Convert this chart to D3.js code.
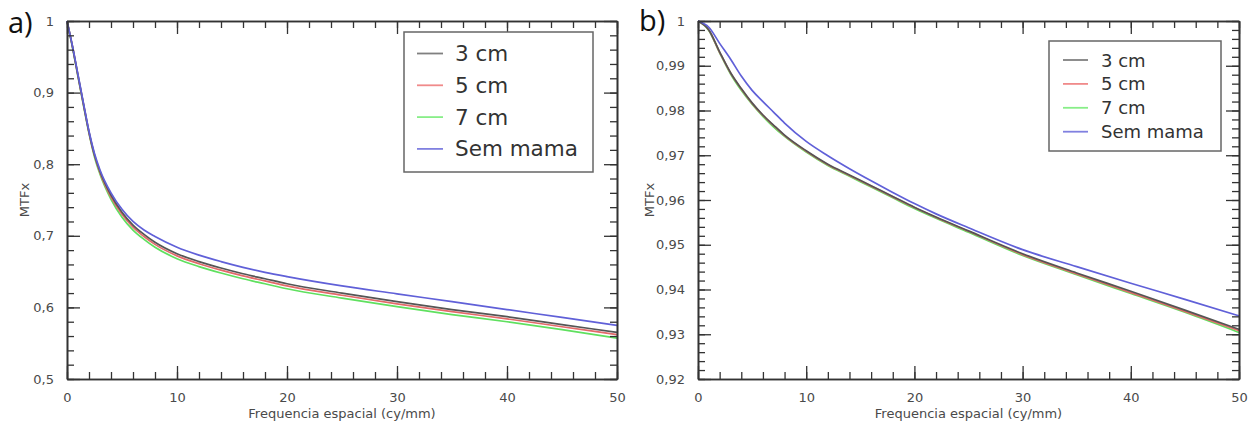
<!DOCTYPE html>
<html>
<head>
<meta charset="utf-8">
<script src="https://cdn.jsdelivr.net/npm/d3@7"></script>
<style>
  html, body { margin: 0; padding: 0; background: #fff; }
  svg { display: block; }
  text { font-family: "DejaVu Sans", sans-serif; }
</style>
</head>
<body>
<svg id="chart" width="1259" height="422"></svg>
<script>
// ---- Panel a) : MTF over the full range ----
const freqA = [0, 0.5, 1, 1.5, 2, 2.5, 3, 4, 5, 6, 7, 8, 10, 12, 14, 16, 18, 20, 25, 30, 35, 40, 45, 50];
const a3cm  = [1.000, 0.964, 0.924, 0.884, 0.845, 0.813, 0.790, 0.757, 0.733, 0.715, 0.702, 0.691, 0.675, 0.664, 0.655, 0.647, 0.640, 0.633, 0.620, 0.608, 0.597, 0.587, 0.576, 0.565];
const a5cm  = [1.000, 0.964, 0.923, 0.883, 0.844, 0.812, 0.788, 0.754, 0.730, 0.712, 0.699, 0.688, 0.672, 0.661, 0.652, 0.644, 0.637, 0.630, 0.617, 0.605, 0.594, 0.584, 0.573, 0.562];
const a7cm  = [1.000, 0.963, 0.922, 0.882, 0.843, 0.810, 0.786, 0.751, 0.726, 0.708, 0.695, 0.684, 0.668, 0.657, 0.648, 0.640, 0.633, 0.626, 0.613, 0.601, 0.590, 0.580, 0.569, 0.557];
const aSem  = [1.000, 0.965, 0.925, 0.885, 0.846, 0.815, 0.792, 0.760, 0.737, 0.720, 0.708, 0.699, 0.684, 0.673, 0.664, 0.656, 0.649, 0.643, 0.630, 0.619, 0.608, 0.597, 0.586, 0.575];
const yTicksA  = [0.5, 0.6, 0.7, 0.8, 0.9, 1];
const yLabelsA = ["0,5", "0,6", "0,7", "0,8", "0,9", "1"];

// ---- Panel b) : zoom near MTF = 1 ----
const freqB = [0, 1, 2, 3, 4, 5, 6, 7, 8, 10, 12, 14, 16, 18, 20, 22, 25, 30, 35, 40, 45, 50];
const b3cm  = [1.0000, 0.9980, 0.9931, 0.9885, 0.9849, 0.9817, 0.9790, 0.9767, 0.9745, 0.9710, 0.9680, 0.9656, 0.9632, 0.9608, 0.9584, 0.9562, 0.9531, 0.9480, 0.9437, 0.9396, 0.9354, 0.9311];
const b5cm  = [1.0000, 0.9980, 0.9930, 0.9884, 0.9848, 0.9816, 0.9789, 0.9766, 0.9744, 0.9709, 0.9679, 0.9655, 0.9631, 0.9607, 0.9583, 0.9561, 0.9530, 0.9478, 0.9435, 0.9393, 0.9351, 0.9308];
const b7cm  = [1.0000, 0.9979, 0.9929, 0.9882, 0.9845, 0.9814, 0.9787, 0.9763, 0.9742, 0.9707, 0.9677, 0.9653, 0.9629, 0.9605, 0.9581, 0.9559, 0.9528, 0.9476, 0.9433, 0.9391, 0.9349, 0.9304];
const bSem  = [1.0000, 0.9986, 0.9950, 0.9915, 0.9877, 0.9845, 0.9820, 0.9796, 0.9772, 0.9731, 0.9699, 0.9670, 0.9643, 0.9617, 0.9592, 0.9569, 0.9538, 0.9489, 0.9451, 0.9414, 0.9378, 0.9341];
const yTicksB  = [0.92, 0.93, 0.94, 0.95, 0.96, 0.97, 0.98, 0.99, 1];
const yLabelsB = ["0,92", "0,93", "0,94", "0,95", "0,96", "0,97", "0,98", "0,99", "1"];

const xTicks  = [0, 10, 20, 30, 40, 50];
const xLabels = ["0", "10", "20", "30", "40", "50"];
const seriesNames = ["3 cm", "5 cm", "7 cm", "Sem mama"];
const xTitle = "Frequencia espacial (cy/mm)";
const yTitle = "MTFx";

// ---- Styling ----
const lineColors   = ["#555555", "#e36a6a", "#5fe05f", "#6060d8"];
const legendColors = ["#808080", "#f08a8a", "#88ee88", "#8080e0"];
const axisColor = "#333";
const labelColor = "#4a4a4a";

const svg = d3.select("#chart");
svg.append("rect").attr("width", 1259).attr("height", 422).attr("fill", "#fff");

const panels = [
  {
    tag: "a)", tagX: 8, tagY: 33,
    left: 67, right: 617, top: 21, bottom: 379,
    yDomain: [0.5, 1], yTicks: yTicksA, yLabels: yLabelsA, yMinorCount: 25,
    freq: freqA, series: [a3cm, a5cm, a7cm, aSem],
    yTitleX: 24,
    legend: { x: 404, y: 32, w: 189, h: 140, rowY0: 53.5, rowStep: 31.8, lineX0: 417, lineX1: 443, textX: 455, fontSize: 21.5 }
  },
  {
    tag: "b)", tagX: 639, tagY: 31,
    left: 698, right: 1239, top: 21, bottom: 379,
    yDomain: [0.92, 1], yTicks: yTicksB, yLabels: yLabelsB, yMinorCount: 40,
    freq: freqB, series: [b3cm, b5cm, b7cm, bSem],
    yTitleX: 649,
    legend: { x: 1049, y: 41, w: 172, h: 110, rowY0: 60, rowStep: 23.9, lineX0: 1063, lineX1: 1088, textX: 1101, fontSize: 18 }
  }
];

panels.forEach(p => {
  const x = d3.scaleLinear().domain([0, 50]).range([p.left, p.right]);
  const y = d3.scaleLinear().domain(p.yDomain).range([p.bottom, p.top]);
  const g = svg.append("g");

  // curves: drawn back to front so the 3 cm line sits over 5/7 cm
  const line = d3.line()
    .x((d, i) => x(p.freq[i]))
    .y(d => y(d))
    .curve(d3.curveMonotoneX);
  const order = [2, 1, 0, 3];
  order.forEach(k => {
    g.append("path")
      .datum(p.series[k])
      .attr("d", line)
      .attr("fill", "none")
      .attr("stroke", lineColors[k])
      .attr("stroke-width", 1.7)
      .attr("stroke-linejoin", "round");
  });

  const xMinor = d3.ticks(0, 50, 25);
  const yMinor = d3.ticks(p.yDomain[0], p.yDomain[1], p.yMinorCount);

  const styleAxis = sel => {
    sel.selectAll(".domain").attr("stroke", axisColor).attr("stroke-width", 1.6);
    sel.selectAll(".tick line").attr("stroke", axisColor).attr("stroke-width", 1.3);
    sel.selectAll(".tick text")
      .attr("fill", labelColor)
      .style("font-family", "'DejaVu Sans', sans-serif")
      .style("font-size", "13px");
  };

  // bottom axis with labels
  g.append("g").attr("transform", `translate(0,${p.bottom})`)
    .call(d3.axisBottom(x).tickValues(xTicks).tickSize(-13).tickSizeOuter(0).tickPadding(14)
      .tickFormat((d, i) => xLabels[i]))
    .call(styleAxis);
  g.append("g").attr("transform", `translate(0,${p.bottom})`)
    .call(d3.axisBottom(x).tickValues(xMinor).tickSize(-7).tickSizeOuter(0).tickFormat(""))
    .call(styleAxis);
  // top axis, mirrored ticks
  g.append("g").attr("transform", `translate(0,${p.top})`)
    .call(d3.axisTop(x).tickValues(xTicks).tickSize(-13).tickSizeOuter(0).tickFormat(""))
    .call(styleAxis);
  g.append("g").attr("transform", `translate(0,${p.top})`)
    .call(d3.axisTop(x).tickValues(xMinor).tickSize(-7).tickSizeOuter(0).tickFormat(""))
    .call(styleAxis);
  // left axis with labels
  g.append("g").attr("transform", `translate(${p.left},0)`)
    .call(d3.axisLeft(y).tickValues(p.yTicks).tickSize(-13).tickSizeOuter(0).tickPadding(13)
      .tickFormat((d, i) => p.yLabels[i]))
    .call(styleAxis);
  g.append("g").attr("transform", `translate(${p.left},0)`)
    .call(d3.axisLeft(y).tickValues(yMinor).tickSize(-7).tickSizeOuter(0).tickFormat(""))
    .call(styleAxis);
  // right axis, mirrored ticks
  g.append("g").attr("transform", `translate(${p.right},0)`)
    .call(d3.axisRight(y).tickValues(p.yTicks).tickSize(-13).tickSizeOuter(0).tickFormat(""))
    .call(styleAxis);
  g.append("g").attr("transform", `translate(${p.right},0)`)
    .call(d3.axisRight(y).tickValues(yMinor).tickSize(-7).tickSizeOuter(0).tickFormat(""))
    .call(styleAxis);

  // axis titles
  g.append("text")
    .attr("x", (p.left + p.right) / 2)
    .attr("y", 418)
    .attr("text-anchor", "middle")
    .attr("fill", labelColor)
    .style("font-size", "13px")
    .text(xTitle);
  g.append("text")
    .attr("transform", `translate(${p.yTitleX},200) rotate(-90)`)
    .attr("text-anchor", "middle")
    .attr("dominant-baseline", "central")
    .attr("fill", labelColor)
    .style("font-size", "13px")
    .text(yTitle);

  // panel tag
  svg.append("text")
    .attr("x", p.tagX)
    .attr("y", p.tagY)
    .attr("fill", "#111")
    .style("font-family", "'Open Sans', 'Liberation Sans', sans-serif")
    .style("font-size", "29px")
    .text(p.tag);

  // legend
  const L = p.legend;
  const lg = svg.append("g");
  lg.append("rect")
    .attr("x", L.x).attr("y", L.y).attr("width", L.w).attr("height", L.h)
    .attr("fill", "#fff").attr("stroke", "#666").attr("stroke-width", 1.5);
  seriesNames.forEach((name, k) => {
    const cy = L.rowY0 + k * L.rowStep;
    lg.append("line")
      .attr("x1", L.lineX0).attr("x2", L.lineX1)
      .attr("y1", cy).attr("y2", cy)
      .attr("stroke", legendColors[k]).attr("stroke-width", 1.8);
    lg.append("text")
      .attr("x", L.textX).attr("y", cy)
      .attr("dominant-baseline", "central")
      .attr("fill", "#333")
      .style("font-size", L.fontSize + "px")
      .text(name);
  });
});
</script>
</body>
</html>
